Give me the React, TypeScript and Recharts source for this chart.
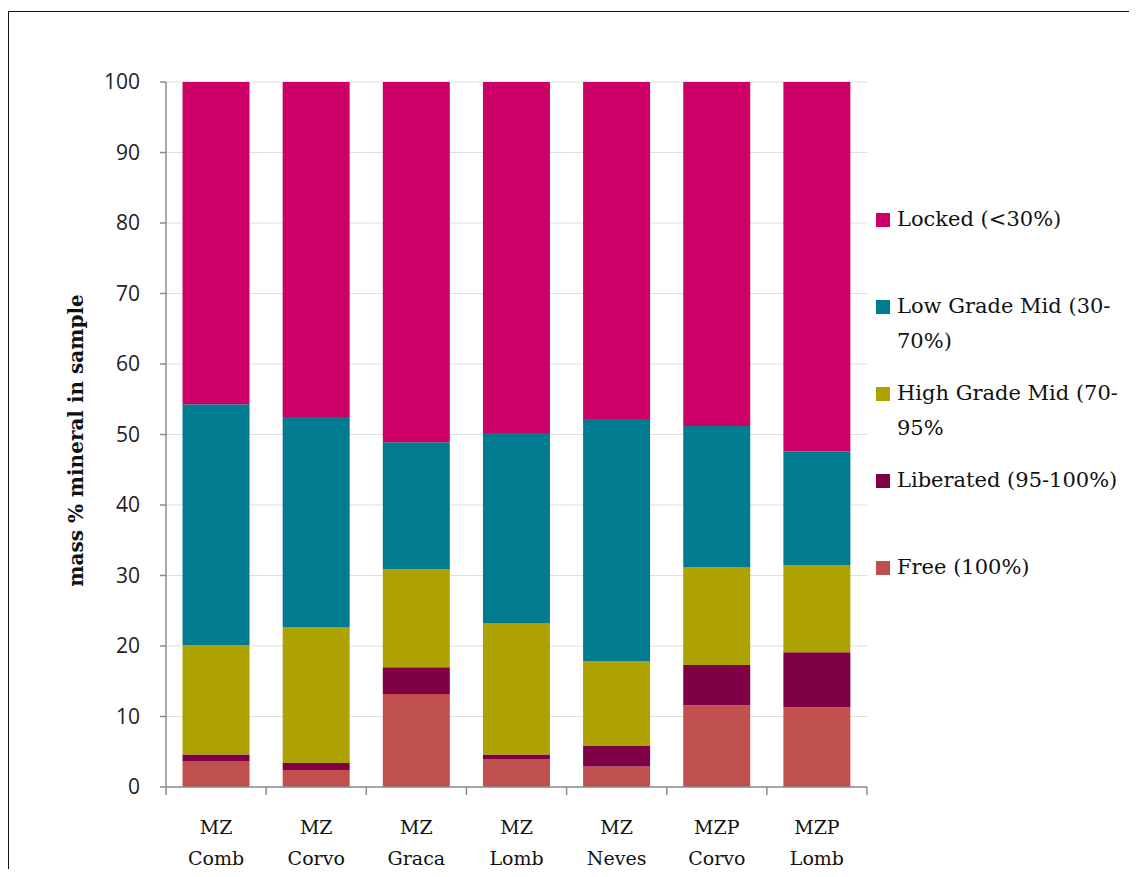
import { BarChart, Bar, XAxis, YAxis, CartesianGrid } from "recharts";

// mass % of mineral per liberation class
const samples = ["MZ Comb", "MZ Corvo", "MZ Graca", "MZ Lomb", "MZ Neves", "MZP Corvo", "MZP Lomb"];
const free = [3.6, 2.4, 13.2, 3.9, 2.9, 11.6, 11.3];
const liberated = [1.0, 1.0, 3.8, 0.7, 3.0, 5.7, 7.8];
const highGradeMid = [15.5, 19.3, 13.9, 18.6, 11.9, 13.9, 12.4];
const lowGradeMid = [34.2, 29.8, 18.0, 27.0, 34.4, 20.0, 16.1];
const locked = [45.7, 47.5, 51.1, 49.8, 47.8, 48.8, 52.4];
const yTicks = [0, 10, 20, 30, 40, 50, 60, 70, 80, 90, 100];

const data = samples.map((name, i) => ({
  name,
  free: free[i],
  liberated: liberated[i],
  hgm: highGradeMid[i],
  lgm: lowGradeMid[i],
  locked: locked[i],
}));

// stacking order bottom -> top
const series = [
  { key: "free", name: "Free (100%)", color: "#C0504D", lines: ["Free (100%)"] },
  { key: "liberated", name: "Liberated (95-100%)", color: "#800046", lines: ["Liberated (95-100%)"] },
  { key: "hgm", name: "High Grade Mid (70-95%", color: "#ADA200", lines: ["High Grade Mid (70-", "95%"] },
  { key: "lgm", name: "Low Grade Mid (30-70%)", color: "#007B8F", lines: ["Low Grade Mid (30-", "70%)"] },
  { key: "locked", name: "Locked (<30%)", color: "#CC0066", lines: ["Locked (<30%)"] },
];

const serif = "'DejaVu Serif', 'Liberation Serif', serif";
const sans = "'Open Sans', 'Noto Sans', sans-serif";

const SampleTick = (props: any) => {
  const { x, y, payload, index } = props;
  const half = payload.offset || 50;
  const [l1, l2] = String(payload.value).split(" ");
  return (
    <g>
      <line x1={x - half} x2={x - half} y1={y} y2={y + 8} stroke="#8c8c8c" strokeWidth={1.5} />
      {index === samples.length - 1 && (
        <line x1={x + half} x2={x + half} y1={y} y2={y + 8} stroke="#8c8c8c" strokeWidth={1.5} />
      )}
      <text x={x} y={y + 47} textAnchor="middle" fontFamily={serif} fontSize={19} fill="#111">
        {l1}
      </text>
      <text x={x} y={y + 78} textAnchor="middle" fontFamily={serif} fontSize={19} fill="#111">
        {l2}
      </text>
    </g>
  );
};

const YLabel = (props: any) => {
  const { viewBox } = props;
  const cx = viewBox.x + 10;
  const cy = viewBox.y + viewBox.height / 2 + 6;
  return (
    <text
      x={cx}
      y={cy}
      transform={`rotate(-90, ${cx}, ${cy})`}
      textAnchor="middle"
      dominantBaseline="central"
      fontFamily={serif}
      fontWeight="bold"
      fontSize={20}
      fill="#111"
    >
      mass % mineral in sample
    </text>
  );
};

const LegendBox = () => (
  <div style={{ fontFamily: serif, fontSize: 21, color: "#111" }}>
    {[...series].reverse().map((s) => (
      <div key={s.key} style={{ height: 87, position: "relative" }}>
        <div
          style={{
            position: "absolute",
            left: 0,
            top: 11,
            width: 14,
            height: 14,
            background: s.color,
          }}
        />
        <div style={{ position: "absolute", left: 21, top: 0, lineHeight: "35px", whiteSpace: "nowrap" }}>
          {s.lines.map((l) => (
            <div key={l}>{l}</div>
          ))}
        </div>
      </div>
    ))}
  </div>
);

export default function App() {
  return (
    <div style={{ position: "relative", width: 1137, height: 877, margin: -8 }}>
      <div
        style={{
          position: "absolute",
          left: 8,
          top: 11,
          width: 1129,
          height: 866,
          borderLeft: "1.5px solid #111",
          borderTop: "1.5px solid #111",
          boxSizing: "border-box",
        }}
      />
      <div style={{ position: "absolute", left: 0, top: 0 }}>
        <BarChart
          width={1137}
          height={877}
          data={data}
          margin={{ top: 82, right: 270, bottom: 0, left: 66 }}
          barCategoryGap="16.5%"
        >
          <CartesianGrid vertical={false} stroke="#dedede" strokeWidth={1} />
          <XAxis
            dataKey="name"
            interval={0}
            tickLine={false}
            tickSize={0}
            tickMargin={0}
            height={90}
            axisLine={{ stroke: "#8c8c8c", strokeWidth: 1.5 }}
            tick={<SampleTick />}
          />
          <YAxis
            width={100}
            domain={[0, 100]}
            ticks={yTicks}
            interval={0}
            tickSize={6}
            tickMargin={20}
            axisLine={{ stroke: "#8c8c8c", strokeWidth: 1.5 }}
            tickLine={{ stroke: "#8c8c8c", strokeWidth: 1.5 }}
            tick={{ fontFamily: sans, fontSize: 21, fill: "#222" }}
            label={<YLabel />}
          />
          {series.map((s) => (
            <Bar key={s.key} dataKey={s.key} name={s.name} stackId="a" fill={s.color} isAnimationActive={false} />
          ))}
        </BarChart>
      </div>
      <div style={{ position: "absolute", left: 876, top: 202, width: 260 }}>
        <LegendBox />
      </div>
    </div>
  );
}
